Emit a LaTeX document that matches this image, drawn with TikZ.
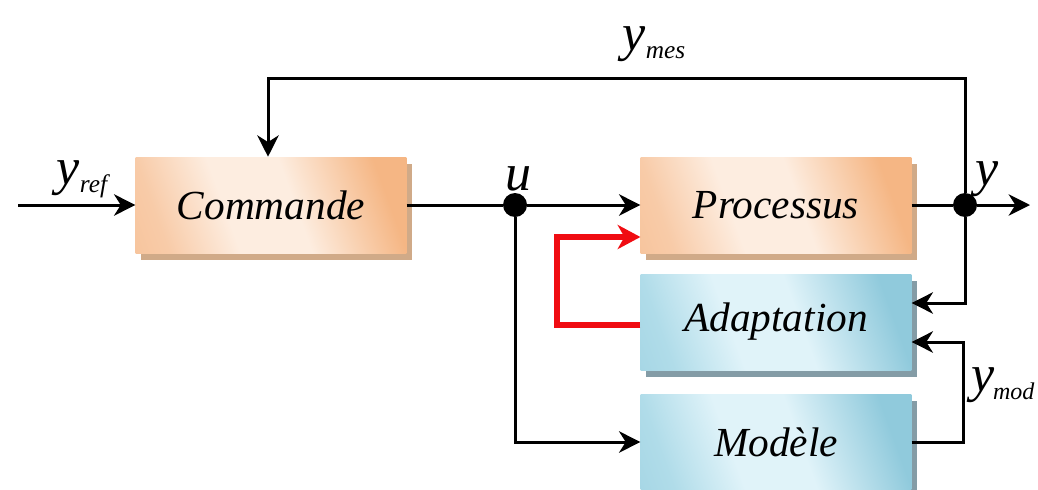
\documentclass[tikz,border=0pt]{standalone}
\usepackage{fontspec}
\setmainfont{Liberation Serif}
\usetikzlibrary{arrows.meta,shadows,calc}

\definecolor{peach}{RGB}{253,237,224}
\definecolor{apricotlt}{RGB}{248,203,168}
\definecolor{apricot}{RGB}{245,182,132}
\definecolor{apricotshadow}{RGB}{208,170,136}
\definecolor{skyblue}{RGB}{224,243,249}
\definecolor{tealbluelt}{RGB}{176,220,233}
\definecolor{tealblue}{RGB}{144,202,220}
\definecolor{tealshadow}{RGB}{132,156,166}
\definecolor{adaptred}{RGB}{240,12,18}

% soft glow across the blocks
\pgfdeclarehorizontalshading{hotglow}{100bp}{color(0bp)=(apricot); color(25bp)=(apricotlt);
  color(40bp)=(peach); color(55bp)=(peach); color(75bp)=(apricot); color(100bp)=(apricot)}
\pgfdeclarehorizontalshading{coldglow}{100bp}{color(0bp)=(tealblue); color(25bp)=(tealbluelt);
  color(40bp)=(skyblue); color(55bp)=(skyblue); color(75bp)=(tealblue); color(100bp)=(tealblue)}

\newcommand{\sigsub}[2]{#1{\fontsize{19}{22}\selectfont\raisebox{-6pt}{#2}}}

\tikzset{
  block/.style={minimum width=203pt, minimum height=72pt, inner sep=0pt,
    font=\fontsize{31}{36}\selectfont\itshape},
  hotblock/.style={block, shade, shading=hotglow, shading angle=20,
    drop shadow={shadow xshift=4pt, shadow yshift=-5pt, fill=apricotshadow, opacity=1}},
  coldblock/.style={block, shade, shading=coldglow, shading angle=20,
    drop shadow={shadow xshift=4pt, shadow yshift=-5pt, fill=tealshadow, opacity=1}},
  wire/.style={line width=2.25pt},
  sig/.style={wire, -{Stealth[length=16pt,width=16pt,inset=5pt]}},
  redsig/.style={line width=4.5pt, adaptred, -{Stealth[length=17pt,width=18pt,inset=5pt]}},
  junction/.style={circle, fill=black, inner sep=0pt, minimum size=18pt},
  lbl/.style={inner sep=0pt, font=\fontsize{39}{44}\selectfont\itshape}
}

\begin{document}
\begin{tikzpicture}[x=0.75pt,y=0.75pt,yscale=-1.0,xscale=1.0]
\useasboundingbox (0,0) rectangle (1038,489);

% blocks
\node [hotblock] (commande) at (271,205) {Commande};
\node [hotblock] (processus) at (776,205) {Processus};
\node [coldblock] (adaptation) at (776,322) {Adaptation};
\node [coldblock] (modele) at (776,442) {Modèle};

% branch points and free ends
\node [junction] (u) at (515,205) {};
\node [junction] (ybr) at (965,205) {};
\coordinate (yin) at (18,205);
\coordinate (yout) at (1030,205);
\coordinate (mescorner) at (965,78);

% signals
\draw [sig] (yin) -- (commande.west);
\draw [wire] (commande.east) -- (u);
\draw [sig] (u) -- (processus.west);
\draw [wire] (processus.east) -- (ybr);
\draw [sig] (ybr) -- (yout);
\draw [sig] (ybr) -- (mescorner) -| ($(commande.north)+(-3,0)$);
\draw [sig] (ybr) |- ($(adaptation.east)+(0,-19)$);
\draw [sig] (modele.east) -- ++(52,0) |- ($(adaptation.east)+(0,20)$);
\draw [sig] (u) |- (modele.west);
\draw [redsig] ($(adaptation.west)+(0,3)$) -- ++(-83,0) |- ($(processus.west)+(0,32)$);

% labels
\node [lbl] (yreflbl) at (82,179) {\sigsub{y}{ref}};
\node [lbl] (ymeslbl) at (654,44) {\sigsub{y}{mes}};
\node [lbl] (ulbl) at (518,179) {u};
\node [lbl] (ylbl) at (987,179) {y};
\node [lbl, anchor=west] (ymodlbl) at (971,385) {y\kern-1pt{\fontsize{18}{22}\selectfont\raisebox{-6pt}{mod}}};
\end{tikzpicture}
\end{document}
